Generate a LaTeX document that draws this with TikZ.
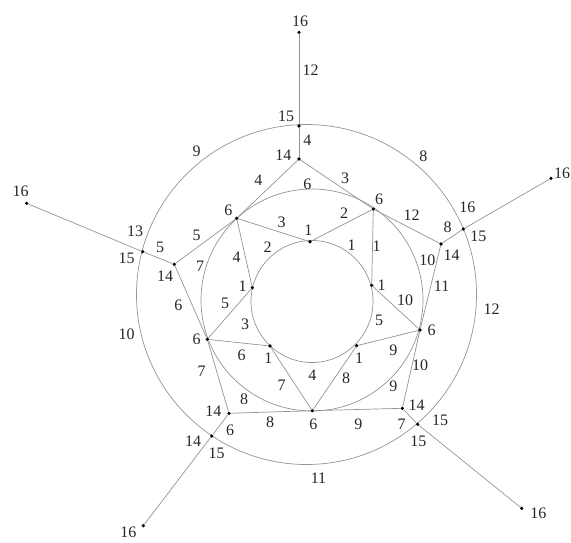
\documentclass[tikz,border=0pt]{standalone}
\usepackage{fontspec}
\setmainfont{Liberation Serif}
\begin{document}
\begin{tikzpicture}[x=1pt,y=-1pt,
  dot/.style={circle,fill=black,inner sep=0pt,minimum size=3.6pt},
  edge/.style={draw=black!42,line width=0.7pt},
  lab/.style={inner sep=0pt,font=\fontsize{16}{16}\selectfont,text=black!85}]
\useasboundingbox (0,0) rectangle (571,542);
% circles
\draw[edge] (306.5,294.5) circle (170);
\draw[edge] (312,300) circle (111);
\draw[edge] (312,301.5) circle (61);
% vertices
\node[dot] (a16t) at (299,32.3) {};
\node[dot] (a16r) at (551,178.3) {};
\node[dot] (a16lr) at (521.7,508.3) {};
\node[dot] (a16ll) at (143.3,525.7) {};
\node[dot] (a16l) at (26.7,203.3) {};
\node[dot] (a15t) at (299,126) {};
\node[dot] (a15r) at (463.3,229) {};
\node[dot] (a15lr) at (417.7,424.3) {};
\node[dot] (a15ll) at (211.7,436) {};
\node[dot] (a15l) at (142.7,251.7) {};
\node[dot] (a14t) at (299,159) {};
\node[dot] (a14r) at (441,244) {};
\node[dot] (a14lr) at (402.3,408.3) {};
\node[dot] (a14ll) at (229,413.3) {};
\node[dot] (a14l) at (174.3,264.3) {};
\node[dot] (s6tl) at (236.7,218.3) {};
\node[dot] (s6tr) at (373.3,209) {};
\node[dot] (s6r) at (420,330) {};
\node[dot] (s6b) at (312.3,410.7) {};
\node[dot] (s6l) at (207.3,339.3) {};
\node[dot] (o1t) at (310,241.7) {};
\node[dot] (o1r) at (371.7,285.3) {};
\node[dot] (o1lr) at (356.7,345.7) {};
\node[dot] (o1ll) at (270,346) {};
\node[dot] (o1l) at (252.3,287.7) {};
% edges
\draw[edge] (a16t) -- (a15t) -- (a14t);
\draw[edge] (a16r) -- (a15r) -- (a14r);
\draw[edge] (a16lr) -- (a15lr) -- (a14lr);
\draw[edge] (a16ll) -- (a15ll) -- (a14ll);
\draw[edge] (a16l) -- (a15l) -- (a14l);
\draw[edge] (s6tl) -- (a14t) -- (s6tr);
\draw[edge] (s6tr) -- (a14r) -- (s6r);
\draw[edge] (s6r) -- (a14lr) -- (s6b);
\draw[edge] (s6b) -- (a14ll) -- (s6l);
\draw[edge] (s6l) -- (a14l) -- (s6tl);
\draw[edge] (o1l) -- (s6tl) -- (o1t);
\draw[edge] (o1t) -- (s6tr) -- (o1r);
\draw[edge] (o1r) -- (s6r) -- (o1lr);
\draw[edge] (o1lr) -- (s6b) -- (o1ll);
\draw[edge] (o1ll) -- (s6l) -- (o1l);
% vertex labels
\node[lab] (l16t) at (300,21.7) {16};
\node[lab] (l16r) at (562,173) {16};
\node[lab] (l16lr) at (538.3,513.3) {16};
\node[lab] (l16ll) at (128.3,532.3) {16};
\node[lab] (l16l) at (20.7,191.7) {16};
\node[lab] (l15t) at (286,116.7) {15};
\node[lab] (l15r) at (478.3,236) {15};
\node[lab] (l15lr) at (418.3,441.7) {15};
\node[lab] (l15ll) at (216.7,453.3) {15};
\node[lab] (l15l) at (126.7,258.3) {15};
\node[lab] (l14t) at (283.3,155) {14};
\node[lab] (l14r) at (451.7,255) {14};
\node[lab] (l14lr) at (416.7,405) {14};
\node[lab] (l14ll) at (213.3,411) {14};
\node[lab] (l14l) at (165,276.7) {14};
\node[lab] (l6tl) at (228.3,210) {6};
\node[lab] (l6tr) at (379,199) {6};
\node[lab] (l6r) at (431.7,330) {6};
\node[lab] (l6b) at (313.3,424) {6};
\node[lab] (l6l) at (196.7,339) {6};
\node[lab] (l1t) at (308.3,230) {1};
\node[lab] (l1l) at (242.7,286) {1};
\node[lab] (l1r) at (381.7,285.3) {1};
\node[lab] (l1ll) at (268.3,358.3) {1};
\node[lab] (l1lr) at (359,358.3) {1};
% edge labels
\node[lab] (e1) at (310.7,70) {12};
\node[lab] (e2) at (307.3,140.7) {4};
\node[lab] (e3) at (258.3,180) {4};
\node[lab] (e4) at (345,178.3) {3};
\node[lab] (e5) at (307.3,184) {6};
\node[lab] (e6) at (281.7,222.7) {3};
\node[lab] (e7) at (344,213.3) {2};
\node[lab] (e8) at (267.7,246.7) {2};
\node[lab] (e9) at (351.7,245) {1};
\node[lab] (e10) at (376.7,246) {1};
\node[lab] (e11) at (411.7,215) {12};
\node[lab] (e12) at (447.7,227.3) {8};
\node[lab] (e13) at (467.3,207.3) {16};
\node[lab] (e14) at (491.7,309.3) {12};
\node[lab] (e15) at (423.3,156) {8};
\node[lab] (e16) at (196.7,151.7) {9};
\node[lab] (e17) at (135,231.7) {13};
\node[lab] (e18) at (160,247.7) {5};
\node[lab] (e19) at (196.7,235) {5};
\node[lab] (e20) at (200,266.7) {7};
\node[lab] (e21) at (178.3,305) {6};
\node[lab] (e22) at (236.7,257) {4};
\node[lab] (e23) at (225,303) {5};
\node[lab] (e24) at (245,324) {3};
\node[lab] (e25) at (241.7,355) {6};
\node[lab] (e26) at (126.7,334) {10};
\node[lab] (e27) at (201.7,371.7) {7};
\node[lab] (e28) at (244,399) {8};
\node[lab] (e29) at (270,422.7) {8};
\node[lab] (e30) at (281.7,385) {7};
\node[lab] (e31) at (312.3,375) {4};
\node[lab] (e32) at (346,378.3) {8};
\node[lab] (e33) at (393.3,386) {9};
\node[lab] (e34) at (358.3,424) {9};
\node[lab] (e35) at (393.3,350) {9};
\node[lab] (e36) at (420,365) {10};
\node[lab] (e37) at (401.7,424) {7};
\node[lab] (e38) at (379,320) {5};
\node[lab] (e39) at (405,300) {10};
\node[lab] (e40) at (427.3,260) {10};
\node[lab] (e41) at (441.7,286.7) {11};
\node[lab] (e42) at (318.5,478.3) {11};
\node[lab] (e43) at (230,430) {6};
\node[lab] (e44) at (193,441.7) {14};
\node[lab] (e45) at (440,420) {15};
\end{tikzpicture}
\end{document}
